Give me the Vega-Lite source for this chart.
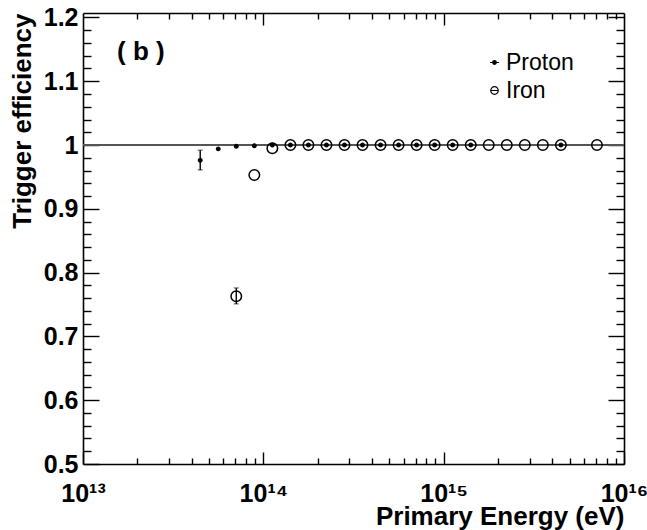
{
  "$schema": "https://vega.github.io/schema/vega-lite/v6.json",
  "width": 541,
  "height": 451,
  "autosize": {"type": "none"},
  "padding": {"left": 83, "top": 13, "right": 23, "bottom": 66},
  "background": "white",
  "config": {
    "view": {"stroke": null},
    "axis": {
      "grid": false,
      "labelFont": "Liberation Sans",
      "titleFont": "Liberation Sans",
      "labelColor": "black",
      "titleColor": "black",
      "domainColor": "black",
      "tickColor": "black",
      "domainWidth": 1.6,
      "tickWidth": 1.4
    },
    "legend": {
      "orient": "none",
      "title": null,
      "labelFont": "Liberation Sans",
      "labelFontSize": 23,
      "labelFontWeight": "normal",
      "labelColor": "black",
      "labelOffset": 0,
      "symbolStrokeWidth": 1.2
    }
  },
  "title": {
    "text": "( b )",
    "anchor": "start",
    "frame": "group",
    "orient": "top",
    "offset": 0,
    "dx": 34,
    "dy": 81,
    "baseline": "alphabetic",
    "font": "Liberation Sans",
    "fontSize": 26,
    "fontWeight": "bold",
    "color": "black"
  },
  "datasets": {
    "rows": [
      {"particle": "Proton", "energy": 4.467e13, "eff": 0.976, "lo": 0.961, "hi": 0.992},
      {"particle": "Proton", "energy": 5.623e13, "eff": 0.994},
      {"particle": "Proton", "energy": 7.079e13, "eff": 0.998},
      {"particle": "Proton", "energy": 8.913e13, "eff": 0.999},
      {"particle": "Proton", "energy": 1.122e14, "eff": 1.0},
      {"particle": "Proton", "energy": 1.413e14, "eff": 1.0},
      {"particle": "Proton", "energy": 1.778e14, "eff": 1.0},
      {"particle": "Proton", "energy": 2.239e14, "eff": 1.0},
      {"particle": "Proton", "energy": 2.818e14, "eff": 1.0},
      {"particle": "Proton", "energy": 3.548e14, "eff": 1.0},
      {"particle": "Proton", "energy": 4.467e14, "eff": 1.0},
      {"particle": "Proton", "energy": 5.623e14, "eff": 1.0},
      {"particle": "Proton", "energy": 7.079e14, "eff": 1.0},
      {"particle": "Proton", "energy": 8.913e14, "eff": 1.0},
      {"particle": "Proton", "energy": 1.122e15, "eff": 1.0},
      {"particle": "Proton", "energy": 1.413e15, "eff": 1.0},
      {"particle": "Proton", "energy": 4.467e15, "eff": 1.0},
      {"particle": "Iron", "energy": 7.079e13, "eff": 0.763, "lo": 0.751, "hi": 0.776},
      {"particle": "Iron", "energy": 8.913e13, "eff": 0.953},
      {"particle": "Iron", "energy": 1.122e14, "eff": 0.995},
      {"particle": "Iron", "energy": 1.413e14, "eff": 1.0},
      {"particle": "Iron", "energy": 1.778e14, "eff": 1.0},
      {"particle": "Iron", "energy": 2.239e14, "eff": 1.0},
      {"particle": "Iron", "energy": 2.818e14, "eff": 1.0},
      {"particle": "Iron", "energy": 3.548e14, "eff": 1.0},
      {"particle": "Iron", "energy": 4.467e14, "eff": 1.0},
      {"particle": "Iron", "energy": 5.623e14, "eff": 1.0},
      {"particle": "Iron", "energy": 7.079e14, "eff": 1.0},
      {"particle": "Iron", "energy": 8.913e14, "eff": 1.0},
      {"particle": "Iron", "energy": 1.122e15, "eff": 1.0},
      {"particle": "Iron", "energy": 1.413e15, "eff": 1.0},
      {"particle": "Iron", "energy": 1.778e15, "eff": 1.0},
      {"particle": "Iron", "energy": 2.239e15, "eff": 1.0},
      {"particle": "Iron", "energy": 2.818e15, "eff": 1.0},
      {"particle": "Iron", "energy": 3.548e15, "eff": 1.0},
      {"particle": "Iron", "energy": 4.467e15, "eff": 1.0},
      {"particle": "Iron", "energy": 7.079e15, "eff": 1.0}
    ]
  },
  "layer": [
    {
      "data": {"values": [{"reference": 1}]},
      "mark": {"type": "rule", "color": "#555555", "strokeWidth": 2},
      "encoding": {
        "x": {
          "datum": 1e13, "type": "quantitative",
          "scale": {"type": "log", "domain": [1e13, 1e16], "nice": false},
          "axis": {"orient": "top", "title": null, "labels": false, "domain": false, "tickSize": -6,
            "values": [2e13,3e13,4e13,5e13,6e13,7e13,8e13,9e13,2e14,3e14,4e14,5e14,6e14,7e14,8e14,9e14,2e15,3e15,4e15,5e15,6e15,7e15,8e15,9e15]}
        },
        "x2": {"datum": 1e16},
        "y": {
          "field": "reference", "type": "quantitative",
          "scale": {"domain": [0.5, 1.207], "nice": false, "zero": false},
          "axis": {"orient": "right", "title": null, "labels": false, "domain": false, "tickSize": -8,
            "values": [0.52,0.54,0.56,0.58,0.62,0.64,0.66,0.68,0.72,0.74,0.76,0.78,0.82,0.84,0.86,0.88,0.92,0.94,0.96,0.98,1.02,1.04,1.06,1.08,1.12,1.14,1.16,1.18]}
        }
      }
    },
    {
      "data": {"name": "rows"},
      "transform": [{"filter": "isValid(datum.lo)"}],
      "mark": {"type": "errorbar", "color": "black", "ticks": {"size": 5, "strokeWidth": 1.4}, "rule": {"strokeWidth": 1.4}},
      "encoding": {
        "x": {
          "field": "energy", "type": "quantitative",
          "scale": {"type": "log", "domain": [1e13, 1e16], "nice": false},
          "axis": {
            "orient": "bottom",
            "values": [1e13, 1e14, 1e15, 1e16],
            "labelExpr": "datum.value < 5e13 ? '10¹³' : datum.value < 5e14 ? '10¹⁴' : datum.value < 5e15 ? '10¹⁵' : '10¹⁶'",
            "labelFontSize": 25,
            "labelFontWeight": "bold",
            "labelFlush": false,
            "labelOverlap": false,
            "tickSize": -12,
            "labelPadding": 29,
            "title": "Primary Energy (eV)",
            "titleFontSize": 26,
            "titleFontWeight": "bold",
            "titleAnchor": "end",
            "titleAlign": "right",
            "titlePadding": -3
          }
        },
        "y": {
          "field": "lo", "type": "quantitative",
          "scale": {"domain": [0.5, 1.207], "nice": false, "zero": false},
          "axis": {
            "orient": "left",
            "values": [0.5, 0.6, 0.7, 0.8, 0.9, 1, 1.1, 1.2],
            "format": "~g",
            "labelFontSize": 25,
            "labelFontWeight": "bold",
            "labelFlush": false,
            "labelOverlap": false,
            "tickSize": -16,
            "labelPadding": 21,
            "title": "Trigger efficiency",
            "titleFontSize": 26,
            "titleFontWeight": "bold",
            "titleAnchor": "end",
            "titlePadding": 8
          }
        },
        "y2": {"field": "hi"}
      }
    },
    {
      "data": {"name": "rows"},
      "transform": [{"filter": "datum.particle === 'Iron'"}],
      "mark": {"type": "point", "filled": false, "strokeWidth": 1.5, "color": "black", "opacity": 1},
      "encoding": {
        "x": {
          "field": "energy", "type": "quantitative",
          "scale": {"type": "log", "domain": [1e13, 1e16], "nice": false},
          "axis": {"orient": "top", "title": null, "labels": false, "domain": true, "tickSize": -12, "values": [1e14, 1e15]}
        },
        "y": {
          "field": "eff", "type": "quantitative",
          "scale": {"domain": [0.5, 1.207], "nice": false, "zero": false},
          "axis": {"orient": "right", "title": null, "labels": false, "domain": true, "tickSize": -16, "values": [0.5, 0.6, 0.7, 0.8, 0.9, 1, 1.1, 1.2]}
        },
        "size": {
          "datum": "Iron", "type": "ordinal",
          "scale": {"range": [110, 110]},
          "legend": {
            "legendX": 400,
            "legendY": 66,
            "symbolType": "M-0.72,0H0.72M0.72,0A0.72,0.72,0,1,1,-0.72,0A0.72,0.72,0,1,1,0.72,0Z"
          }
        }
      }
    },
    {
      "data": {"name": "rows"},
      "transform": [{"filter": "datum.particle === 'Proton'"}],
      "mark": {"type": "point", "filled": true, "size": 14, "color": "black", "stroke": "black", "strokeWidth": 1.2},
      "encoding": {
        "x": {
          "field": "energy", "type": "quantitative",
          "scale": {"type": "log", "domain": [1e13, 1e16], "nice": false},
          "axis": {"orient": "bottom", "title": null, "labels": false, "domain": false, "tickSize": -6,
            "values": [2e13,3e13,4e13,5e13,6e13,7e13,8e13,9e13,2e14,3e14,4e14,5e14,6e14,7e14,8e14,9e14,2e15,3e15,4e15,5e15,6e15,7e15,8e15,9e15]}
        },
        "y": {
          "field": "eff", "type": "quantitative",
          "scale": {"domain": [0.5, 1.207], "nice": false, "zero": false},
          "axis": {"orient": "left", "title": null, "labels": false, "domain": false, "tickSize": -8,
            "values": [0.52,0.54,0.56,0.58,0.62,0.64,0.66,0.68,0.72,0.74,0.76,0.78,0.82,0.84,0.86,0.88,0.92,0.94,0.96,0.98,1.02,1.04,1.06,1.08,1.12,1.14,1.16,1.18]}
        },
        "opacity": {
          "datum": "Proton", "type": "nominal",
          "scale": {"range": [1, 1]},
          "legend": {
            "legendX": 400,
            "legendY": 38,
            "symbolSize": 81,
            "symbolType": "M-1,0H1M0.4,0A0.4,0.4,0,1,1,-0.4,0A0.4,0.4,0,1,1,0.4,0Z"
          }
        }
      }
    }
  ],
  "resolve": {"axis": {"x": "independent", "y": "independent"}}
}
